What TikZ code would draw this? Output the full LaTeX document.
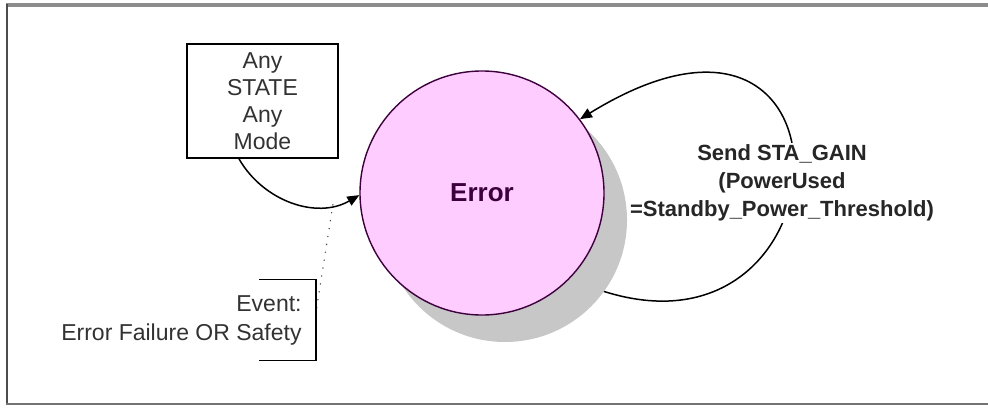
\documentclass[tikz,border=0pt]{standalone}
\usepackage{fontspec}
\setmainfont{Liberation Sans}
\usetikzlibrary{arrows.meta}
\usetikzlibrary{shadows}
\usetikzlibrary{calc,backgrounds}

\definecolor{errpink}{RGB}{255,204,255}
\definecolor{errline}{RGB}{60,0,60}
\definecolor{txtgray}{RGB}{50,50,50}

\begin{document}
\begin{tikzpicture}[x=0.5pt,y=-0.5pt,
  statebox/.style={draw=black, line width=1pt, minimum width=75.5pt, minimum height=57pt,
    align=center, text=txtgray, font=\fontsize{11.5}{13.5}\selectfont},
  errstate/.style={circle, draw=errline, line width=0.7pt, fill=errpink, minimum size=122pt,
    inner sep=0pt, text=errline, font=\fontsize{13}{15}\selectfont\bfseries,
    drop shadow={shadow xshift=11.5pt, shadow yshift=-13.5pt, fill=black!22, opacity=1}},
  note/.style={align=right, text=txtgray, inner xsep=7pt, minimum height=40pt,
    font=\fontsize{11.5}{14.5}\selectfont},
  trans/.style={line width=0.75pt, -{Triangle[length=6pt,width=5pt]}}]
\useasboundingbox (0,0) rectangle (988,407);
\draw[black!45, line width=2pt] (6,5)--(988,5);
\draw[black!70, line width=1pt] (7,4)--(7,405);
\draw[black!55, line width=1pt] (6,404)--(988,404);

\node[statebox] (anystate) at (262.5,101) {Any\\STATE\\Any\\Mode};
\node[errstate] (err) at (482,193) {Error};
\node[note, anchor=east] (event) at (316,320) {Event:\\Error Failure OR Safety};
\node[fill=white, align=center, inner sep=1pt, text=black!85,
  font=\fontsize{11}{14}\selectfont\bfseries] (gainlbl) at (782,183)
  {Send STA\_GAIN\\(PowerUsed\\=Standby\_Power\_Threshold)};

\draw[trans] (anystate.-112) to[out=-60, in=-150] coordinate[pos=0.8] (tap) (err.181);
\draw[black!70, line width=0.8pt, line cap=round, dash pattern=on 0pt off 4pt] (tap) -- ([yshift=4pt]event.east);
\draw[line width=0.6pt] ([xshift=-28.5pt]event.north east) -- (event.north east)
  -- (event.south east) -- ++(-28.5pt,0);

\begin{scope}[on background layer]
\draw[trans] (err.-44) .. controls +(280,130) and +(300,-185) .. (err.37);
\end{scope}
\end{tikzpicture}
\end{document}
